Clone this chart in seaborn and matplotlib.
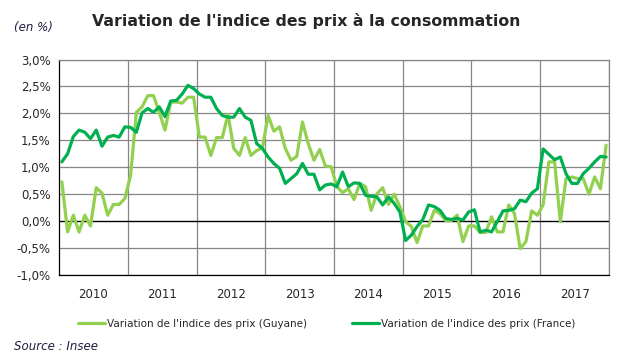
import numpy as np
import pandas as pd
import matplotlib
matplotlib.use("Agg")
import matplotlib.pyplot as plt
import seaborn as sns
from matplotlib.lines import Line2D

years = ["2010", "2011", "2012", "2013", "2014", "2015", "2016", "2017"]

guyane = [0.73, -0.20, 0.11, -0.20, 0.11, -0.09, 0.62, 0.52, 0.11, 0.31, 0.31, 0.42,
          0.85, 2.02, 2.12, 2.33, 2.33, 2.02, 1.69, 2.21, 2.21, 2.19, 2.30, 2.30,
          1.56, 1.56, 1.22, 1.55, 1.55, 1.98, 1.35, 1.22, 1.55, 1.22, 1.31, 1.36,
          1.96, 1.67, 1.75, 1.35, 1.13, 1.20, 1.84, 1.44, 1.13, 1.33, 1.02, 1.01,
          0.64, 0.53, 0.60, 0.40, 0.70, 0.64, 0.20, 0.51, 0.62, 0.31, 0.50, 0.27,
          -0.01, -0.10, -0.40, -0.09, -0.09, 0.20, 0.14, 0.01, 0.01, 0.11, -0.38, -0.09,
          -0.09, -0.21, -0.21, 0.08, -0.20, -0.20, 0.30, 0.14, -0.51, -0.38, 0.19, 0.11,
          0.30, 1.10, 1.10, -0.01, 0.79, 0.82, 0.79, 0.79, 0.50, 0.82, 0.60, 1.41]

france = [1.10, 1.25, 1.57, 1.69, 1.65, 1.53, 1.69, 1.39, 1.56, 1.59, 1.56, 1.75,
          1.74, 1.65, 2.01, 2.09, 2.02, 2.12, 1.94, 2.23, 2.24, 2.36, 2.52, 2.46,
          2.36, 2.30, 2.30, 2.09, 1.96, 1.93, 1.93, 2.09, 1.93, 1.87, 1.44, 1.35,
          1.19, 1.07, 0.98, 0.70, 0.79, 0.88, 1.07, 0.87, 0.87, 0.58, 0.67, 0.69,
          0.64, 0.91, 0.64, 0.71, 0.70, 0.48, 0.46, 0.45, 0.30, 0.45, 0.33, 0.17,
          -0.36, -0.26, -0.10, 0.03, 0.30, 0.27, 0.20, 0.05, 0.03, 0.05, 0.02, 0.17,
          0.21, -0.20, -0.17, -0.20, -0.01, 0.19, 0.20, 0.23, 0.39, 0.36, 0.52, 0.60,
          1.34, 1.24, 1.14, 1.19, 0.88, 0.70, 0.70, 0.88, 0.98, 1.10, 1.20, 1.19]

labels = ["Variation de l'indice des prix (Guyane)",
          "Variation de l'indice des prix (France)"]
yticks = [-1.0, -0.5, 0.0, 0.5, 1.0, 1.5, 2.0, 2.5, 3.0]

n = len(france)
df = pd.DataFrame({
    "mois": list(range(n)) * 2,
    "valeur": guyane + france,
    "serie": [labels[0]] * n + [labels[1]] * n,
})

sns.set_style("white")
plt.rcParams["font.family"] = ["DejaVu Sans"]

fig = plt.figure(figsize=(6.26, 3.59), dpi=100)
ax = fig.add_axes([59 / 626, 1 - 275 / 359, 550 / 626, (275 - 59.5) / 359])

palette = {labels[0]: "#92D050", labels[1]: "#00B050"}
sns.lineplot(data=df, x="mois", y="valeur", hue="serie", palette=palette,
             linewidth=2.3, ax=ax, legend=False, zorder=3)

ax.set_xlim(-0.5, n - 0.5)
ax.set_ylim(-1.0, 3.0)

grid_c = "#868686"
for yv in yticks:
    if yv != 0.0:
        ax.axhline(yv, color=grid_c, lw=0.9, zorder=1)
ax.axhline(0.0, color="black", lw=1.0, zorder=2)
for k in range(1, len(years) + 1):
    ax.axvline(12 * k - 0.5, color=grid_c, lw=0.9, zorder=1)

ax.set_yticks(yticks)
ax.set_yticklabels([("%.1f%%" % v).replace(".", ",") for v in yticks], fontsize=8.5)
ax.tick_params(axis="y", length=3, width=0.8, color="black", pad=3)

ax.set_xticks([12 * k + 5.5 for k in range(len(years))])
ax.set_xticklabels(years, fontsize=8.5)
ax.tick_params(axis="x", length=0, pad=9)

ax.set_xlabel("")
ax.set_ylabel("")
for s in ["top", "right"]:
    ax.spines[s].set_color(grid_c)
    ax.spines[s].set_linewidth(0.9)
for s in ["left", "bottom"]:
    ax.spines[s].set_color("black")
    ax.spines[s].set_linewidth(0.9)

handles = [Line2D([], [], color=palette[l], lw=2.3) for l in labels]
fig.legend(handles, labels, loc="center", bbox_to_anchor=(0.522, 1 - 324 / 359),
           ncol=2, frameon=False, fontsize=7.5, handlelength=2.6, handletextpad=0.2,
           columnspacing=4.3)

fig.text(92 / 626, 1 - 21 / 359, "Variation de l'indice des prix à la consommation",
         fontsize=11.3, fontweight="heavy", va="center", ha="left")
fig.text(14 / 626, 1 - 28 / 359, "(en %)", fontsize=8.5, style="italic",
         va="center", ha="left", color="#1F1F3F")
fig.text(14 / 626, 1 - 347 / 359, "Source : Insee", fontsize=8.5, style="italic",
         va="center", ha="left", color="#1F1F3F")

fig.savefig("out.png", dpi=100)
